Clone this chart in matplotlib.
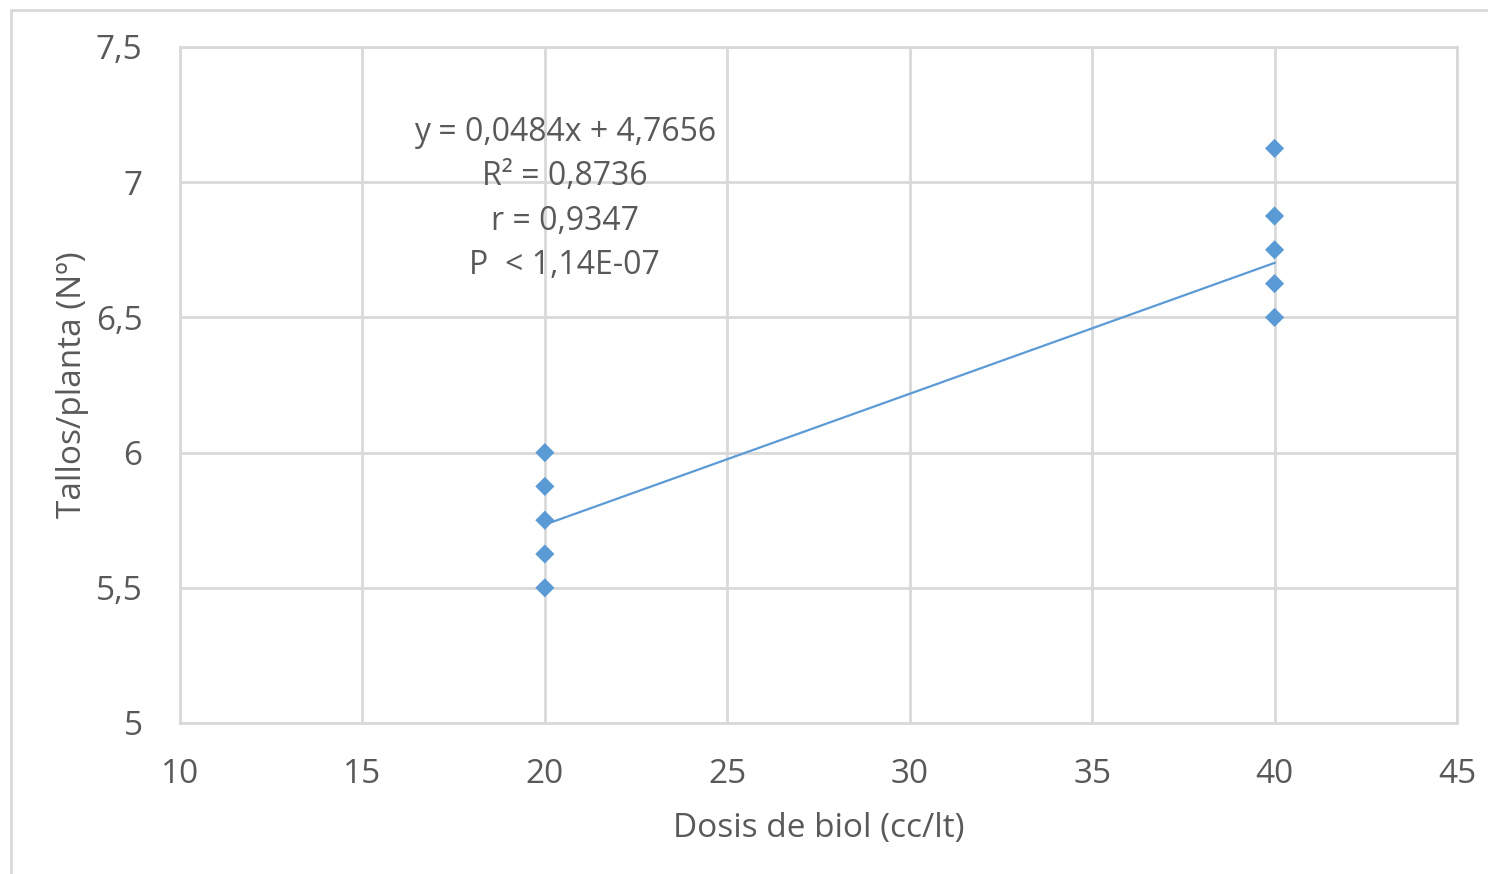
import matplotlib
matplotlib.use("Agg")
import matplotlib.pyplot as plt
from matplotlib.patches import Rectangle
import numpy as np

# data
dose = [20, 20, 20, 20, 20, 40, 40, 40, 40, 40]
stems = [6.0, 5.875, 5.75, 5.625, 5.5, 7.125, 6.875, 6.75, 6.625, 6.5]
slope, intercept = 0.0484, 4.7656
stats_lines = ["y = 0,0484x + 4,7656", "R² = 0,8736", "r = 0,9347", "P  < 1,14E-07"]
xticks = [10, 15, 20, 25, 30, 35, 40, 45]
yticks = [5, 5.5, 6, 6.5, 7, 7.5]
ytick_labels = ["5", "5,5", "6", "6,5", "7", "7,5"]

BLUE, TXT, GRID = "#5B9BD5", "#595959", "#D9D9D9"
plt.rcParams["font.family"] = ["Open Sans", "DejaVu Sans"]

fig = plt.figure(figsize=(14.88, 8.74), dpi=100)
ax = fig.add_axes([180 / 1488, 1 - 723 / 874, (1457 - 180) / 1488, (723 - 47) / 874])

# outer chart frame (only left/top visible in the reference)
fig.patches.append(Rectangle((11 / 1488, -0.1), 1.2, 1.1 - 10 / 874, transform=fig.transFigure,
                             fill=False, edgecolor=GRID, lw=2))

x_fit = np.array([min(dose), max(dose)])
ax.plot(x_fit, slope * x_fit + intercept, color=BLUE, lw=1.6, zorder=3)
ax.scatter(dose, stems, marker="D", s=95, color=BLUE, edgecolor="none", zorder=4)

ax.set_xlim(10, 45); ax.set_ylim(5, 7.5)
ax.set_xticks(xticks); ax.set_xticklabels([str(t) for t in xticks])
ax.set_yticks(yticks); ax.set_yticklabels(ytick_labels)
ax.grid(True, color=GRID, lw=2)
ax.set_axisbelow(True)
for s in ax.spines.values():
    s.set_color(GRID); s.set_linewidth(2)
ax.tick_params(length=0, labelsize=24, colors=TXT)
ax.tick_params(axis="x", pad=25)
ax.tick_params(axis="y", pad=27)

ax.set_xlabel("Dosis de biol (cc/lt)", fontsize=24, color=TXT, labelpad=15)
ax.set_ylabel("Tallos/planta (Nº)", fontsize=24, color=TXT, labelpad=5)

ax.text(20.55, 6.938, "\n".join(stats_lines), ha="center", va="center", fontsize=23,
        color=TXT, linespacing=1.445)

fig.savefig("out.png")
